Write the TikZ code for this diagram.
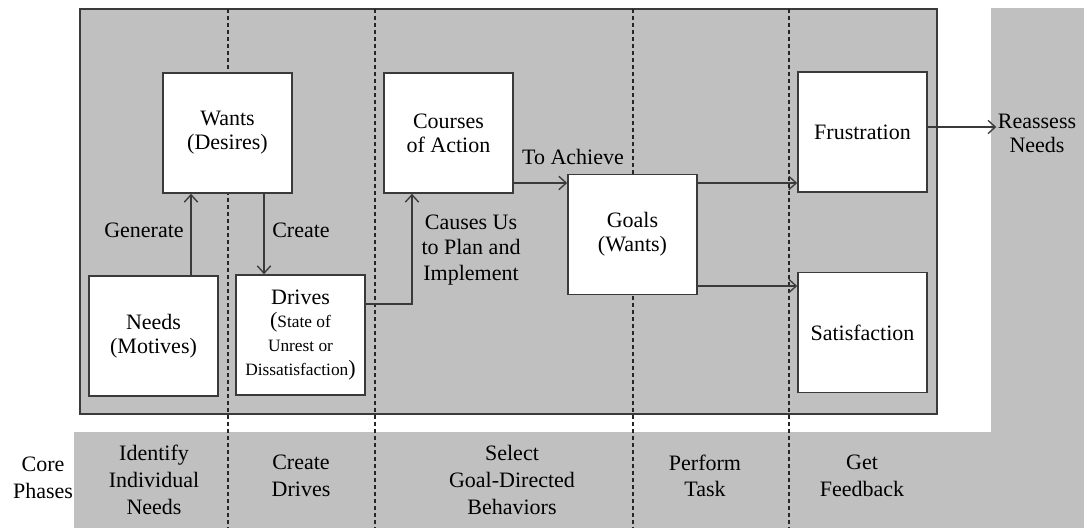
\documentclass[tikz,border=0pt]{standalone}
\usepackage{fontspec}
\setmainfont{Liberation Serif}
\usetikzlibrary{arrows.meta}
\definecolor{panelgray}{RGB}{192,192,192}
\definecolor{inkgray}{RGB}{58,58,58}
\newcommand{\subtext}{\fontsize{13}{18}\selectfont}
\newcommand{\bigparen}[1]{{\fontsize{16.5}{18}\selectfont #1}}
\begin{document}
\begin{tikzpicture}[x=0.75pt,y=-0.75pt,
  panel/.style={fill=panelgray,draw=none},
  frame/.style={draw=inkgray,line width=1.3pt,fill=panelgray},
  stagebox/.style={draw=inkgray,fill=white,line width=1.2pt,
    minimum width=96.75pt,minimum height=90pt,inner sep=2pt,
    align=center,font=\fontsize{16.5}{18}\selectfont},
  arr/.style={draw=inkgray,line width=1pt,-{Straight Barb[length=5.5pt,width=10pt]}},
  phaseline/.style={draw=black!85,line width=0.8pt,dash pattern=on 3pt off 2.25pt},
  lbl/.style={align=center,inner sep=1pt,font=\fontsize{16.5}{19}\selectfont},
  phase/.style={align=center,inner sep=1pt,font=\fontsize{16.5}{20}\selectfont}]

% canvas
\useasboundingbox (0,0) rectangle (1084,528);
\fill[white] (0,0) rectangle (1084,528);

% grey bands: feedback column and core-phase strip
\fill[panel] (991,8) rectangle (1084,528);
\fill[panel] (74,432) rectangle (1084,528);

% main process frame
\draw[frame] (80,9) rectangle (937,414);

% phase separators
\foreach \px in {228,375,633,789}
  \draw[phaseline] (\px,9) -- (\px,528);

% stages
\node[stagebox] (wants)   at (227.5,133)   {Wants\\(Desires)};
\node[stagebox] (needs)   at (153.5,336)   {Needs\\(Motives)};
\node[stagebox] (drives)  at (300.5,335)   {Drives\\[-1pt]\subtext\bigparen{(}State of\\\subtext Unrest or\\\subtext Dissatisfaction\bigparen{)}};
\node[stagebox] (courses) at (448.5,133)   {Courses\\of Action};
\node[stagebox] (goals)   at (632.5,234.5) {Goals\\(Wants)};
\node[stagebox] (frust)   at (862.5,132)   {Frustration};
\node[stagebox] (satis)   at (862.5,332.5) {Satisfaction};
\node[lbl,font=\fontsize{16.5}{18}\selectfont] (reassess) at (1037,133) {Reassess\\Needs};

% connectors
\draw[arr] (needs.north -| 191,0) -- (wants.south -| 191,0);
\draw[arr] (wants.south -| 264,0) -- (drives.north -| 264,0);
\draw[arr] (drives.east |- 0,304) -| (courses.south -| 412,0);
\draw[arr] (courses.east |- 0,183) -- (goals.west |- 0,183);
\draw[arr] (goals.east |- 0,183) -- (frust.west |- 0,183);
\draw[arr] (goals.east |- 0,286) -- (satis.west |- 0,286);
\draw[arr] (frust.east |- 0,127) -- (reassess.west |- 0,127);

% connector labels
\node[lbl] (lgen)    at (144,230) {Generate};
\node[lbl] (lcreate) at (301,230) {Create};
\node[lbl] (lcauses) at (471,250) {Causes Us\\to Plan and\\Implement};
\node[lbl] (lachieve) at (573,157) {To Achieve};

% core phases
\node[phase] (core)    at (43,478)  {Core\\Phases};
\node[phase] (ph1)     at (154,480) {Identify\\Individual\\Needs};
\node[phase] (ph2)     at (301,476) {Create\\Drives};
\node[phase] (ph3)     at (512,480) {Select\\Goal-Directed\\Behaviors};
\node[phase] (ph4)     at (705,476) {Perform\\Task};
\node[phase] (ph5)     at (862,476) {Get\\Feedback};
\end{tikzpicture}
\end{document}
